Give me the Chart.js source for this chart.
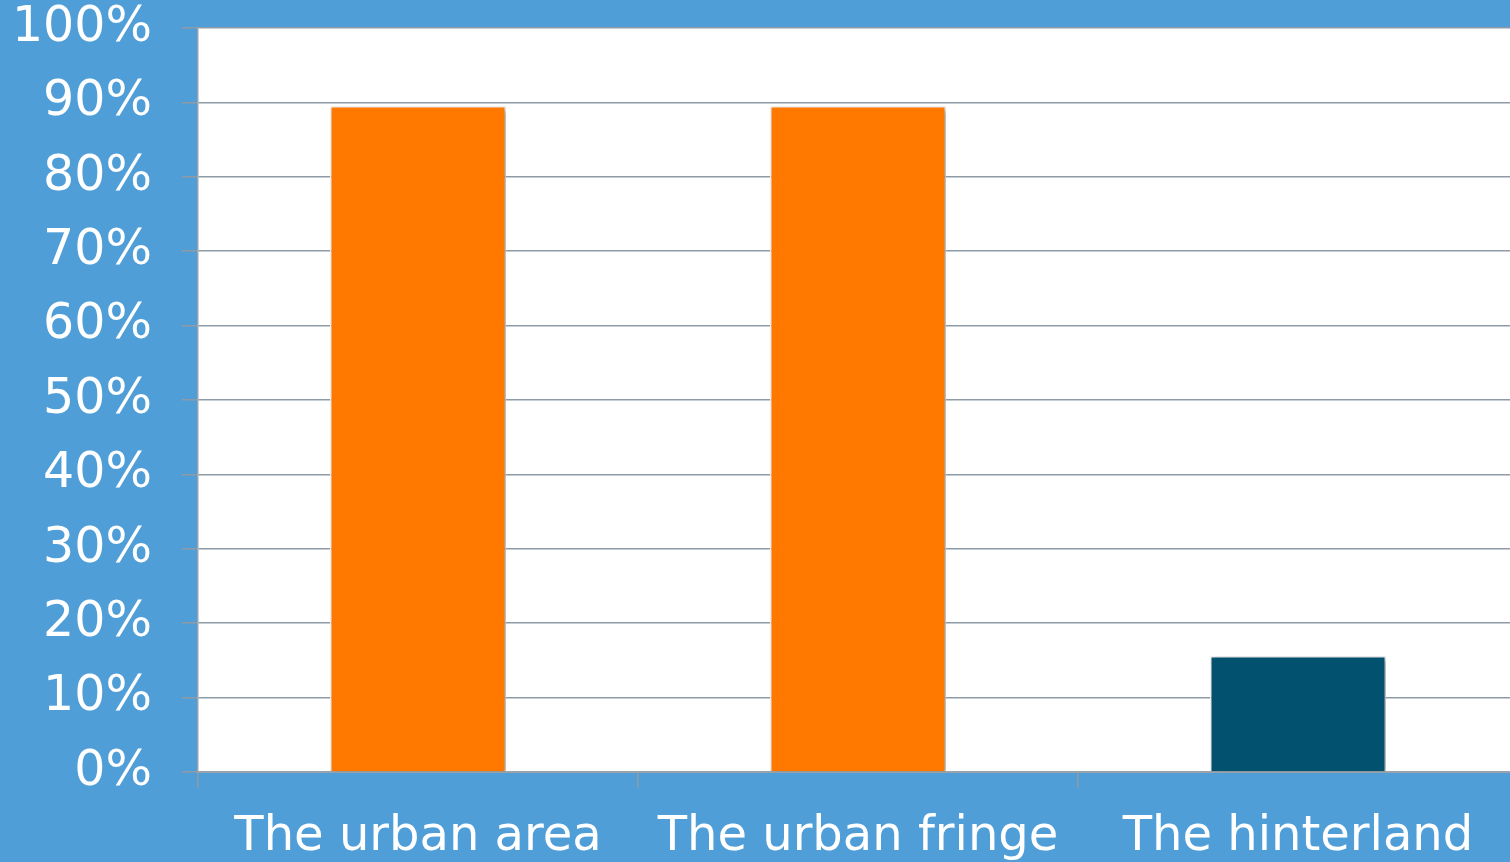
<!DOCTYPE html>
<html>
<head>
<meta charset="utf-8">
<script src="https://cdn.jsdelivr.net/npm/chart.js"></script>
<style>
  html, body { margin: 0; padding: 0; background: #509ed7; overflow: hidden; }
  #wrap { width: 1518px; height: 862px; }
</style>
</head>
<body>
<div id="wrap"><canvas id="myChart"></canvas></div>
<script>
const categories = ["The urban area", "The urban fringe", "The hinterland"];
const shares = [89.5, 89.5, 15.6];
const barColors = ["#ff7800", "#ff7800", "#02516f"];
const yTicks = [0, 10, 20, 30, 40, 50, 60, 70, 80, 90, 100];

// blue page, white plot area
const backdrop = {
    id: "backdrop",
    beforeDraw(chart) {
        const { ctx, chartArea: a } = chart;
        ctx.save();
        ctx.fillStyle = "#509ed7";
        ctx.fillRect(0, 0, chart.width, chart.height);
        ctx.fillStyle = "#ffffff";
        ctx.fillRect(a.left, a.top, a.right - a.left, a.bottom - a.top);
        ctx.restore();
    },
    beforeDatasetsDraw(chart) {
        const ctx = chart.ctx;
        ctx.save();
        ctx.shadowColor = "rgba(0,0,0,0.35)";
        ctx.shadowBlur = 5;
        ctx.shadowOffsetX = 2;
        ctx.shadowOffsetY = 2;
    },
    afterDatasetsDraw(chart) {
        chart.ctx.restore();
    },
};

const ctx = document.getElementById("myChart");
new Chart(ctx, {
    type: "bar",
    data: {
        labels: categories,
        datasets: [
            {
                data: shares,
                backgroundColor: barColors,
                borderColor: "#f2f2f2",
                borderWidth: 1.5,
                categoryPercentage: 0.8,
                barPercentage: 0.5,
            },
        ],
    },
    options: {
        responsive: true,
        maintainAspectRatio: false,
        animation: false,
        layout: { padding: 0 },
        plugins: {
            legend: { display: false },
            tooltip: { enabled: false },
        },
        scales: {
            x: {
                offset: true,
                grid: {
                    offset: true,
                    drawOnChartArea: false,
                    tickLength: 16,
                    color: "#8e9ba6",
                    lineWidth: 1.5,
                },
                border: { color: "#9aa3ab", width: 2 },
                ticks: {
                    color: "#ffffff",
                    padding: 21,
                    font: { family: "DejaVu Sans", size: 48 },
                    maxRotation: 0,
                    autoSkip: false,
                },
                afterFit(scale) {
                    scale.height = 90;
                    scale.paddingLeft = 0;
                    scale.paddingRight = 0;
                },
            },
            y: {
                min: 0,
                max: 100,
                afterBuildTicks(scale) {
                    scale.ticks = yTicks.map(v => ({ value: v }));
                },
                grid: {
                    tickLength: 16,
                    color: "#8e9ba6",
                    lineWidth: 1.5,
                },
                border: { color: "#9aa3ab", width: 1.5 },
                ticks: {
                    color: "#ffffff",
                    padding: 30,
                    font: { family: "DejaVu Sans", size: 49 },
                    callback: v => v + "%",
                },
                afterFit(scale) {
                    scale.width = 198;
                    scale.paddingTop = 28;
                    scale.paddingBottom = 0;
                },
            },
        },
    },
    plugins: [backdrop],
});
</script>
</body>
</html>
